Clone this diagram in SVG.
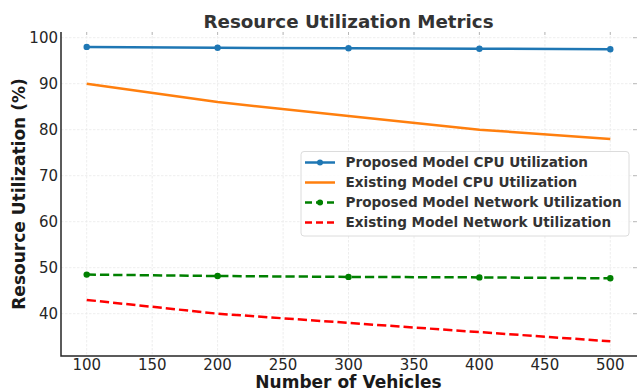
<svg xmlns="http://www.w3.org/2000/svg" width="637" height="390" viewBox="0 0 637 390">
<style>
.grid{stroke:#e8e8e8;stroke-width:0.8;stroke-dasharray:2.5,1.5}
.tick{font-family:"DejaVu Sans",sans-serif;font-size:15px;fill:#262626}
.tm{stroke:#aaa;stroke-width:0.8}
.spine{stroke:#262626;stroke-width:1.5;fill:none}
.lg{font-family:"DejaVu Sans",sans-serif;font-weight:bold;font-size:13.6px;fill:#333}
.ax{font-family:"DejaVu Sans",sans-serif;font-weight:bold;font-size:17px;fill:#1a1a1a}
</style>
<rect width="637" height="390" fill="#fff"/>
<g id="grid">
<line class="grid" x1="86.7" y1="32" x2="86.7" y2="356"/>
<line class="grid" x1="152.2" y1="32" x2="152.2" y2="356"/>
<line class="grid" x1="217.6" y1="32" x2="217.6" y2="356"/>
<line class="grid" x1="283.1" y1="32" x2="283.1" y2="356"/>
<line class="grid" x1="348.5" y1="32" x2="348.5" y2="356"/>
<line class="grid" x1="414" y1="32" x2="414" y2="356"/>
<line class="grid" x1="479.4" y1="32" x2="479.4" y2="356"/>
<line class="grid" x1="544.9" y1="32" x2="544.9" y2="356"/>
<line class="grid" x1="610.3" y1="32" x2="610.3" y2="356"/>
<line class="grid" x1="61" y1="37.7" x2="637" y2="37.7"/>
<line class="grid" x1="61" y1="83.7" x2="637" y2="83.7"/>
<line class="grid" x1="61" y1="129.7" x2="637" y2="129.7"/>
<line class="grid" x1="61" y1="175.7" x2="637" y2="175.7"/>
<line class="grid" x1="61" y1="221.7" x2="637" y2="221.7"/>
<line class="grid" x1="61" y1="267.7" x2="637" y2="267.7"/>
<line class="grid" x1="61" y1="313.7" x2="637" y2="313.7"/>
</g>
<g id="ticks">
<line class="tm" x1="86.7" y1="32" x2="86.7" y2="35"/>
<line class="tm" x1="152.2" y1="32" x2="152.2" y2="35"/>
<line class="tm" x1="217.6" y1="32" x2="217.6" y2="35"/>
<line class="tm" x1="283.1" y1="32" x2="283.1" y2="35"/>
<line class="tm" x1="348.5" y1="32" x2="348.5" y2="35"/>
<line class="tm" x1="414" y1="32" x2="414" y2="35"/>
<line class="tm" x1="479.4" y1="32" x2="479.4" y2="35"/>
<line class="tm" x1="544.9" y1="32" x2="544.9" y2="35"/>
<line class="tm" x1="610.3" y1="32" x2="610.3" y2="35"/>
<line class="tm" x1="633" y1="37.7" x2="637" y2="37.7"/>
<line class="tm" x1="633" y1="83.7" x2="637" y2="83.7"/>
<line class="tm" x1="633" y1="129.7" x2="637" y2="129.7"/>
<line class="tm" x1="633" y1="175.7" x2="637" y2="175.7"/>
<line class="tm" x1="633" y1="221.7" x2="637" y2="221.7"/>
<line class="tm" x1="633" y1="267.7" x2="637" y2="267.7"/>
<line class="tm" x1="633" y1="313.7" x2="637" y2="313.7"/>
</g>
<g id="spines">
<polyline class="spine" points="61,32 61,356 637,356"/>
</g>
<g id="yticklabels" text-anchor="end">
<text class="tick" x="58" y="43">100</text>
<text class="tick" x="58" y="89">90</text>
<text class="tick" x="58" y="135">80</text>
<text class="tick" x="58" y="181">70</text>
<text class="tick" x="58" y="227">60</text>
<text class="tick" x="58" y="273">50</text>
<text class="tick" x="58" y="319">40</text>
</g>
<g id="xticklabels" text-anchor="middle">
<text class="tick" x="86.7" y="370">100</text>
<text class="tick" x="152.2" y="370">150</text>
<text class="tick" x="217.6" y="370">200</text>
<text class="tick" x="283.1" y="370">250</text>
<text class="tick" x="348.5" y="370">300</text>
<text class="tick" x="414" y="370">350</text>
<text class="tick" x="479.4" y="370">400</text>
<text class="tick" x="544.9" y="370">450</text>
<text class="tick" x="610.3" y="370">500</text>
</g>
<g id="connectors">
<g id="proposed-cpu" stroke="#1f77b4" fill="#1f77b4">
<polyline fill="none" stroke-width="2.5" points="86.7,46.9 217.6,47.8 348.5,48.3 479.4,48.7 610.3,49.2"/>
<circle cx="86.7" cy="46.9" r="3.2" stroke="none"/>
<circle cx="217.6" cy="47.8" r="3.2" stroke="none"/>
<circle cx="348.5" cy="48.3" r="3.2" stroke="none"/>
<circle cx="479.4" cy="48.7" r="3.2" stroke="none"/>
<circle cx="610.3" cy="49.2" r="3.2" stroke="none"/>
</g>
<polyline id="existing-cpu" fill="none" stroke="#ff7f0e" stroke-width="2.5" points="86.7,83.7 217.6,102.1 348.5,115.9 479.4,129.7 610.3,138.9"/>
<g id="proposed-net" stroke="#008000" fill="#008000">
<polyline fill="none" stroke-width="2.5" stroke-dasharray="9.25,4" points="86.7,274.6 217.6,276 348.5,276.9 479.4,277.4 610.3,278.3"/>
<circle cx="86.7" cy="274.6" r="3.2" stroke="none"/>
<circle cx="217.6" cy="276" r="3.2" stroke="none"/>
<circle cx="348.5" cy="276.9" r="3.2" stroke="none"/>
<circle cx="479.4" cy="277.4" r="3.2" stroke="none"/>
<circle cx="610.3" cy="278.3" r="3.2" stroke="none"/>
</g>
<polyline id="existing-net" fill="none" stroke="#ff0000" stroke-width="2.5" stroke-dasharray="9.25,4" points="86.7,299.9 217.6,313.7 348.5,322.9 479.4,332.1 610.3,341.3"/>
</g>
<g id="legend">
<rect x="301" y="151.5" width="328" height="84.5" rx="3" fill="#fff" fill-opacity="0.85" stroke="#dcdcdc" stroke-width="1"/>
<line x1="305" y1="162.5" x2="335" y2="162.5" stroke="#1f77b4" stroke-width="2.5"/>
<circle cx="320" cy="162.5" r="3" fill="#1f77b4"/>
<line x1="305" y1="182.5" x2="335" y2="182.5" stroke="#ff7f0e" stroke-width="2.5"/>
<line x1="305" y1="202.5" x2="335" y2="202.5" stroke="#008000" stroke-width="2.5" stroke-dasharray="7,4"/>
<circle cx="320" cy="202.5" r="3" fill="#008000"/>
<line x1="305" y1="222.5" x2="335" y2="222.5" stroke="#ff0000" stroke-width="2.5" stroke-dasharray="7,4"/>
<text class="lg" x="345.5" y="167.4">Proposed Model CPU Utilization</text>
<text class="lg" x="345.5" y="187.4">Existing Model CPU Utilization</text>
<text class="lg" x="345.5" y="207.4">Proposed Model Network Utilization</text>
<text class="lg" x="345.5" y="227.4">Existing Model Network Utilization</text>
</g>
<g id="labels">
<text x="348.5" y="28.3" text-anchor="middle" font-family="DejaVu Sans, sans-serif" font-weight="bold" font-size="18.3" fill="#333">Resource Utilization Metrics</text>
<text class="ax" x="348.5" y="388" text-anchor="middle">Number of Vehicles</text>
<text class="ax" x="0" y="0" text-anchor="middle" transform="translate(25,194) rotate(-90)">Resource Utilization (%)</text>
</g>
</svg>
